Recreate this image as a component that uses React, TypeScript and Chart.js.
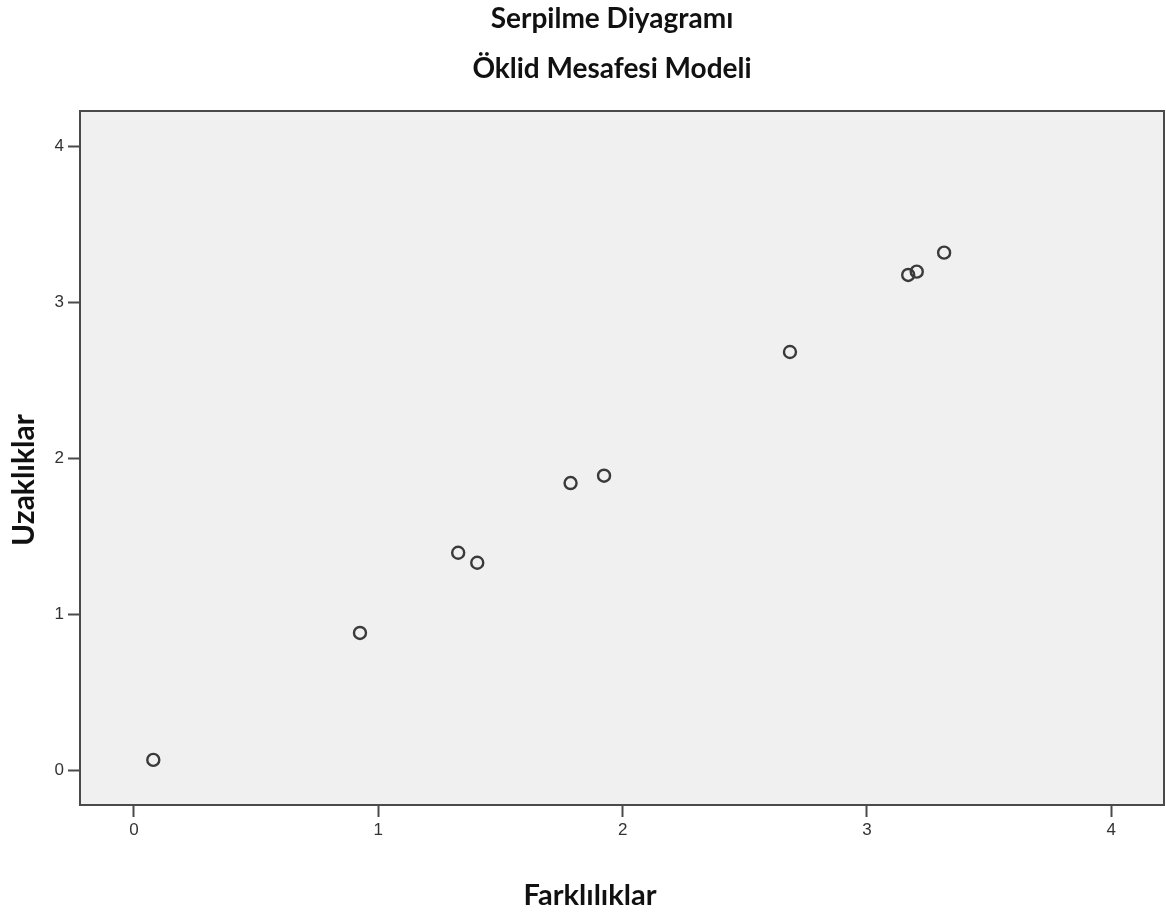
import React, { useEffect, useRef } from "react";
import { Chart, registerables } from "chart.js";

Chart.register(...registerables);

const farkliliklar: number[] = [0.079, 0.925, 1.327, 1.405, 1.787, 1.924, 2.685, 3.169, 3.204, 3.316];
const uzakliklar: number[] = [0.069, 0.883, 1.397, 1.333, 1.844, 1.891, 2.684, 3.178, 3.199, 3.321];
const tickValues: number[] = [0, 1, 2, 3, 4];

const titleMain = "Serpilme Diyagramı";
const titleSub = "Öklid Mesafesi Modeli";
const xTitle = "Farklılıklar";
const yTitle = "Uzaklıklar";

const FAMILY = "Lato, 'Open Sans', sans-serif";

const framePlugin = {
  id: "frame",
  beforeDraw(chart: any) {
    const { ctx, chartArea: a } = chart;
    ctx.save();
    ctx.fillStyle = "#f0f0f0";
    ctx.fillRect(a.left, a.top, a.right - a.left, a.bottom - a.top);
    ctx.restore();
  },
  afterDraw(chart: any) {
    const { ctx, chartArea: a } = chart;
    ctx.save();
    ctx.strokeStyle = "#4a4a4a";
    ctx.lineWidth = 2;
    ctx.strokeRect(a.left, a.top, a.right - a.left, a.bottom - a.top);
    ctx.fillStyle = "#111";
    ctx.textAlign = "center";
    ctx.textBaseline = "alphabetic";
    ctx.font = `bold 28px ${FAMILY}`;
    ctx.fillText(titleMain, 612, 28);
    ctx.fillText(titleSub, 612, 78);
    ctx.font = `bold 29px ${FAMILY}`;
    ctx.fillText(xTitle, 590, 905);
    ctx.translate(34, 480);
    ctx.rotate(-Math.PI / 2);
    ctx.font = `bold 30px ${FAMILY}`;
    ctx.fillText(yTitle, 0, 0);
    ctx.restore();
  },
};

export default function App() {
  const ref = useRef<HTMLCanvasElement>(null);
  useEffect(() => {
    if (!ref.current) return;
    const points = farkliliklar.map((x, i) => ({ x, y: uzakliklar[i] }));
    const tickFont = { family: "'Liberation Sans', Arial, sans-serif", size: 17 };
    const chart = new Chart(ref.current, {
      type: "scatter",
      data: {
        datasets: [
          {
            data: points,
            pointStyle: "circle",
            pointRadius: 6,
            pointBorderWidth: 2.4,
            pointBorderColor: "#3a3a3a",
            pointBackgroundColor: "rgba(0,0,0,0)",
          },
        ],
      },
      options: {
        animation: false,
        responsive: false,
        maintainAspectRatio: false,
        layout: { autoPadding: false, padding: { top: 111, left: 0, right: 2, bottom: 0 } },
        plugins: {
          legend: { display: false },
          tooltip: { enabled: false },
          title: { display: false },
        },
        scales: {
          x: {
            type: "linear",
            min: -0.221,
            max: 4.216,
            afterBuildTicks: (scale: any) => {
              scale.ticks = tickValues.map((v) => ({ value: v }));
            },
            afterFit: (scale: any) => {
              scale.height = 108;
            },
            ticks: { font: tickFont, color: "#333", padding: 3, maxRotation: 0 },
            grid: {
              drawOnChartArea: false,
              drawTicks: true,
              tickLength: 12,
              tickWidth: 2,
              tickColor: "#4a4a4a",
            },
            border: { display: false },
          },
          y: {
            type: "linear",
            min: -0.22,
            max: 4.229,
            afterBuildTicks: (scale: any) => {
              scale.ticks = tickValues.map((v) => ({ value: v }));
            },
            afterFit: (scale: any) => {
              scale.width = 80;
            },
            ticks: { font: tickFont, color: "#333", padding: 4 },
            grid: {
              drawOnChartArea: false,
              drawTicks: true,
              tickLength: 12,
              tickWidth: 2,
              tickColor: "#4a4a4a",
            },
            border: { display: false },
          },
        },
      },
      plugins: [framePlugin],
    } as any);
    return () => chart.destroy();
  }, []);
  return (
    <div style={{ position: "fixed", left: 0, top: 0, width: 1166, height: 913, background: "#fff" }}>
      <canvas ref={ref} width={1166} height={913} style={{ width: 1166, height: 913 }} />
    </div>
  );
}
